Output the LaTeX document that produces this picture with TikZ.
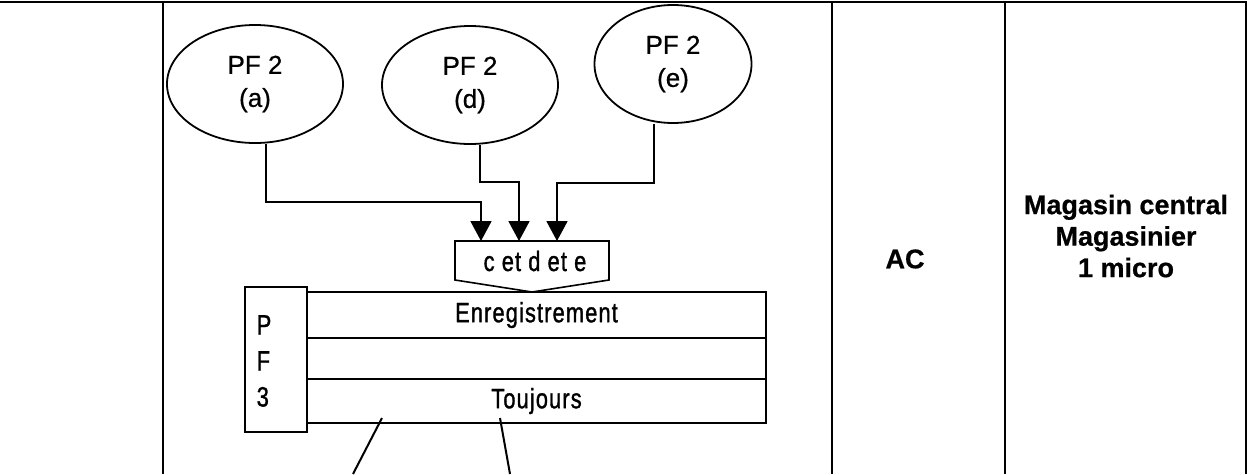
\documentclass[tikz,border=0pt]{standalone}
\usepackage{fontspec}
\setmainfont{Liberation Sans}[FakeBold=0.6]
\newfontfamily\narrowf[FakeStretch=0.78,LetterSpace=4,FakeBold=1.2]{Liberation Sans}
\usetikzlibrary{shapes.geometric,arrows.meta}
\begin{document}
\begin{tikzpicture}[x=1pt,y=-1pt,
  frame/.style={line width=1.5pt},
  bubble/.style={draw,ellipse,line width=1.8pt,minimum width=176pt,minimum height=118pt,inner sep=0pt,align=center,font=\fontsize{26}{33}\selectfont},
  flow/.style={line width=1.8pt,-{Triangle[length=20pt,width=21pt]}},
  row/.style={draw,line width=1.6pt,minimum width=459pt,inner sep=0pt,font=\narrowf\fontsize{28}{30}\selectfont},
  lbl/.style={font=\bfseries\fontsize{27}{31.5}\selectfont,align=center},
  slant/.style={line width=2pt}]
\useasboundingbox (0,0) rectangle (1247,474);
% frame
\draw[frame] (0,2) -- (1247,2);
\draw[frame] (163,2) -- (163,474);
\draw[frame] (832,2) -- (832,474);
\draw[frame] (1005,2) -- (1005,474);
\draw[frame] (1246,2) -- (1246,474);
% ellipses
\node[bubble] (a) at (255,84) {PF 2\\(a)};
\node[bubble] (d) at (470,85) {PF 2\\(d)};
\node[bubble,minimum width=157pt] (e) at (673,64) {PF 2\\(e)};
% pentagon
\draw[line width=1.6pt] (455,241) -- (609,241) -- (609,280) -- (532,292) -- (455,280) -- cycle;
\node[font=\narrowf\fontsize{28}{30}\selectfont] (cde) at (535,261) {c et d et e};
\coordinate (ta) at (481,241);
\coordinate (td) at (519,241);
\coordinate (te) at (557,241);
\coordinate (ka) at (266,202);
\coordinate (kd) at (480,182);
\coordinate (ke) at (654,183);
\draw[flow] (a.south -| ka) -- (ka) -| (ta);
\draw[flow] (d.south -| kd) -- (kd) -| (td);
\draw[flow] (e.south -| ke) -- (ke) -| (te);
% table
\node[draw,line width=1.6pt,minimum width=62pt,minimum height=145pt,inner sep=0pt] (pf3) at (276,359.5) {};
\node[font=\narrowf\fontsize{28}{36}\selectfont,align=left] (pf3t) at (264,361) {P\\F\\3};
\node[row,minimum height=46pt] (r1) at (536.5,315) {Enregistrement};
\node[row,minimum height=41pt] (r2) at (536.5,358.5) {};
\node[row,minimum height=44pt] (r3) at (536.5,401) {Toujours};
% slanted lines
\coordinate (s1a) at (382,418);
\coordinate (s1b) at (353,474);
\coordinate (s2a) at (500,418);
\coordinate (s2b) at (510,474);
\draw[slant] (s1a) -- (s1b);
\draw[slant] (s2a) -- (s2b);
% right labels
\node[lbl] (ac) at (905,259) {AC};
\node[lbl] (mag) at (1126,236) {Magasin central\\Magasinier\\1 micro};
\end{tikzpicture}
\end{document}
